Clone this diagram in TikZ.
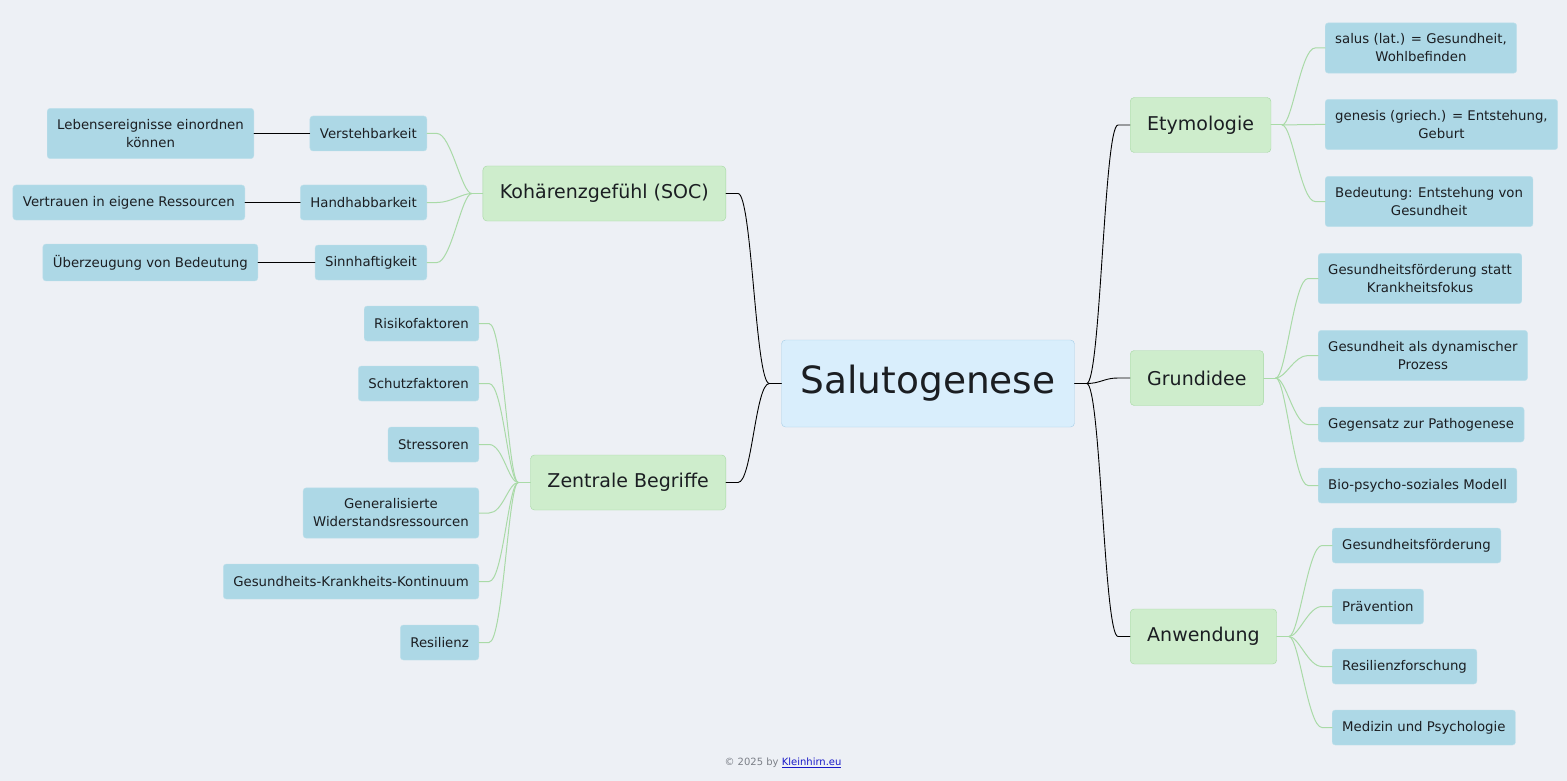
\documentclass[tikz,border=0pt]{standalone}
\usepackage{fontspec}
\setmainfont{DejaVu Sans}
\definecolor{bgcol}{HTML}{EDF0F5}
\definecolor{rootfill}{HTML}{D9EEFC}
\definecolor{rootline}{HTML}{A8CFE7}
\definecolor{branchfill}{HTML}{CEEDCC}
\definecolor{branchline}{HTML}{A6D8A3}
\definecolor{leaffill}{HTML}{ADD8E6}
\definecolor{leafline}{HTML}{BFE0EB}
\definecolor{twigcol}{HTML}{A9DAA7}
\definecolor{textcol}{HTML}{1B1E22}
\definecolor{footgray}{HTML}{7C8088}
\definecolor{linkblue}{HTML}{1A1AC8}
\tikzset{
  root/.style={draw=rootline, fill=rootfill, rounded corners=4, inner xsep=19, minimum height=87, font=\fontsize{37.5}{44}\selectfont},
  branch/.style={draw=branchline, fill=branchfill, rounded corners=4, inner xsep=17, minimum height=55, font=\fontsize{19}{23}\selectfont},
  leaf/.style={draw=leafline, fill=leaffill, rounded corners=3, inner xsep=10, inner ysep=11, minimum height=35, align=center, font=\fontsize{13.3}{18}\selectfont},
  trunk/.style={draw=black, line width=0.9},
  twig/.style={draw=twigcol, line width=1},
}
\begin{document}
\begin{tikzpicture}[x=1pt, y=-1pt, line join=round, line cap=round, every node/.style={text=textcol}]
\fill[bgcol] (0,0) rectangle (1567,781);

% centre and main branches
\node[root] (salu) at (928,383.5) {Salutogenese};
\node[branch, anchor=east] (koh) at (726,193.5) {Kohärenzgefühl (SOC)};
\node[branch, anchor=east] (zen) at (726,482.5) {Zentrale Begriffe};
\node[branch, anchor=west] (ety) at (1130,125) {Etymologie};
\node[branch, anchor=west] (grund) at (1130,378) {Grundidee};
\node[branch, anchor=west] (anw) at (1130,636.5) {Anwendung};

\draw[trunk] (salu.east) -- ++(12,0) coordinate (rfan);
\draw[trunk] (salu.west) -- ++(-12,0) coordinate (lfan);
\foreach \m in {ety,grund,anw}{\draw[trunk] (rfan) .. controls +(14,0) and +(-14,0) .. ([xshift=-12]\m.west) -- (\m.west);}
\foreach \m in {koh,zen}{\draw[trunk] (lfan) .. controls +(-14,0) and +(14,0) .. ([xshift=12]\m.east) -- (\m.east);}

% Etymologie
\draw[twig] (ety.east) -- ++(11,0) coordinate (efan);
\foreach \n/\y/\t in {1/48/salus (lat.) = Gesundheit{,}\\Wohlbefinden, 2/124.5/genesis (griech.) = Entstehung{,}\\Geburt, 3/201.5/Bedeutung: Entstehung von\\Gesundheit}{
  \node[leaf, anchor=west] (ety\n) at (1325,\y) {\t};
  \draw[twig] (efan) .. controls +(10,0) and +(-14,0) .. ([xshift=-10]ety\n.west) -- (ety\n.west);
}

% Grundidee
\draw[twig] (grund.east) -- ++(12,0) coordinate (gfan);
\foreach \n/\y/\t in {1/278.5/Gesundheitsförderung statt\\Krankheitsfokus, 2/355.5/Gesundheit als dynamischer\\Prozess, 3/424.5/Gegensatz zur Pathogenese, 4/485.5/Bio-psycho-soziales Modell}{
  \node[leaf, anchor=west] (grund\n) at (1318,\y) {\t};
  \draw[twig] (gfan) .. controls +(10,0) and +(-14,0) .. ([xshift=-10]grund\n.west) -- (grund\n.west);
}

% Anwendung
\draw[twig] (anw.east) -- ++(12,0) coordinate (afan);
\foreach \n/\y/\t in {1/545.5/Gesundheitsförderung, 2/606.5/Prävention, 3/666.5/Resilienzforschung, 4/727.5/Medizin und Psychologie}{
  \node[leaf, anchor=west] (anw\n) at (1332,\y) {\t};
  \draw[twig] (afan) .. controls +(10,0) and +(-14,0) .. ([xshift=-10]anw\n.west) -- (anw\n.west);
}

% Kohaerenzgefuehl
\draw[twig] (koh.west) -- ++(-11,0) coordinate (kfan);
\foreach \n/\y/\t/\gx/\g in {1/133.5/Verstehbarkeit/254/Lebensereignisse einordnen\\können, 2/202.5/Handhabbarkeit/245/Vertrauen in eigene Ressourcen, 3/262.5/Sinnhaftigkeit/258/Überzeugung von Bedeutung}{
  \node[leaf, anchor=east] (koh\n) at (427,\y) {\t};
  \node[leaf, anchor=east] (sub\n) at (\gx,\y) {\g};
  \draw[twig] (kfan) .. controls +(-10,0) and +(14,0) .. ([xshift=10]koh\n.east) -- (koh\n.east);
  \draw[trunk] (koh\n) -- (sub\n);
}

% Zentrale Begriffe
\draw[twig] (zen.west) -- ++(-12,0) coordinate (zfan);
\foreach \n/\y/\t in {1/323.5/Risikofaktoren, 2/383.5/Schutzfaktoren, 3/444.5/Stressoren, 4/513/Generalisierte\\Widerstandsressourcen, 5/581.5/Gesundheits-Krankheits-Kontinuum, 6/642.5/Resilienz}{
  \node[leaf, anchor=east] (zen\n) at (479,\y) {\t};
  \draw[twig] (zfan) .. controls +(-10,0) and +(14,0) .. ([xshift=10]zen\n.east) -- (zen\n.east);
}

\node[font=\fontsize{10}{12}\selectfont, text=footgray] (foot) at (783,763) {© 2025 by \textcolor{linkblue}{\underline{Kleinhirn.eu}}};
\end{tikzpicture}
\end{document}
